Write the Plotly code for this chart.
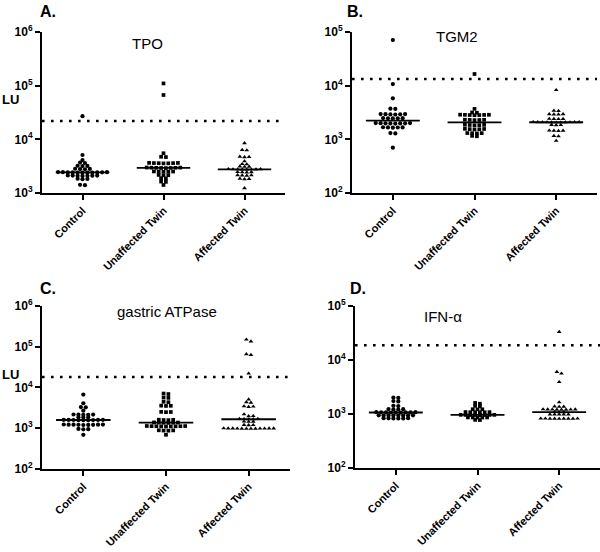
import numpy as np
import plotly.graph_objects as go

categories = ["Control", "Unaffected Twin", "Affected Twin"]

# Panel A: TPO (LU)
tpo_control = [27000, 5100, 4100, 3680, 3620, 3220, 3200, 3180, 2830, 2810, 2790, 2770,
               2450, 2445, 2440, 2430, 2425, 2420, 2415, 2410, 2400, 2395, 2390,
               2120, 2115, 2110, 2100, 2090, 2085, 2080, 1850, 1830, 1810, 1420, 1400]
tpo_unaffected = [110000, 67000, 5500, 4730, 4670, 3640, 3630, 3610, 3600, 3590, 3570, 3560,
                  2980, 2970, 2960, 2950, 2940, 2930, 2920, 2910, 2520, 2510, 2500, 2490, 2480,
                  2170, 2150, 2130, 1890, 1870, 1630, 1610, 1410]
tpo_affected = [8500, 6350, 6250, 4740, 4700, 4660, 3900, 3470, 3430, 3120, 3100, 3080,
                2790, 2780, 2770, 2760, 2750, 2740, 2730, 2720, 2460, 2450, 2430, 2420,
                2150, 2140, 2120, 2110, 1850, 1830, 1810, 1230]
tpo_cutoff = 22000

# Panel B: TGM2
tgm2_control = [71000, 10700, 5800, 3720, 3680, 2960, 2950, 2940, 2920, 2910, 2900,
                2490, 2480, 2470, 2460, 2450, 2010, 2005, 2000, 1990, 1985, 1980, 1975, 1970,
                1680, 1670, 1665, 1660, 1650, 1310, 1290, 700]
tgm2_unaffected = [16500, 3700, 3170, 3130, 2880, 2870, 2860, 2850, 2840, 2830, 2820,
                   2320, 2310, 2300, 2290, 2280, 1870, 1860, 1850, 1840, 1830,
                   1570, 1560, 1550, 1540, 1530, 1310, 1305, 1300, 1290, 1160, 1140]
tgm2_affected = [8300, 3420, 3380, 2950, 2940, 2920, 2910, 2420, 2410, 2400, 2390,
                 2100, 2095, 2090, 2085, 2080, 2080, 2075, 2070, 2065, 2060, 2055,
                 1860, 1850, 1840, 1460, 1455, 1450, 1440, 1160, 1140, 940]
tgm2_cutoff = 13300

# Panel C: gastric ATPase (LU)
atp_control = [6700, 4100, 3300, 3260, 2700, 2170, 2160, 2150, 2140, 2130, 1860, 1850, 1840,
               1610, 1605, 1600, 1595, 1590, 1585, 1580, 1575, 1570,
               1235, 1230, 1225, 1220, 1220, 1215, 1210, 1205, 1200, 960, 950, 940, 690]
atp_unaffected = [7100, 6900, 5650, 5550, 4450, 4350, 3580, 3550, 3520, 2520, 2500, 2480,
                  1620, 1610, 1590, 1580, 1390, 1380, 1375, 1365, 1360, 1350,
                  1135, 1130, 1125, 1120, 1120, 1115, 1110, 1105, 1100, 890, 885, 875, 870, 690]
atp_affected = [150000, 135000, 66000, 63000, 22000, 5100, 4350, 4250, 3450, 3400, 3350,
                2200, 1990, 1970, 1700, 1690, 1680, 1670, 1660, 1460, 1450, 1440, 1210, 1200, 1190,
                995, 993, 990, 988, 986, 985, 984, 982, 980, 978, 976, 974]
atp_cutoff = 18100

# Panel D: IFN-alpha
ifn_control = [2020, 1980, 1730, 1710, 1420, 1400, 1230, 1225, 1215, 1210,
               1080, 1078, 1075, 1072, 1070, 1068, 1065, 1062, 1060,
               945, 943, 941, 940, 939, 937, 935, 933, 835, 833, 830, 828, 826, 824]
ifn_unaffected = [1600, 1550, 1410, 1390, 1225, 1220, 1215, 1085, 1082, 1080, 1078, 1076, 1074,
                  965, 963, 961, 960, 959, 957, 955, 953, 864, 862, 860, 858, 856, 778, 772]
ifn_affected = [33000, 6000, 5600, 3900, 1650, 1380, 1370, 1360, 1220, 1217, 1214, 1211, 1208,
                1205, 1202, 1199, 1085, 1080, 1075, 985, 982, 980, 978, 975,
                825, 824, 823, 822, 820, 819, 818, 817, 816]
ifn_cutoff = 18700

panels = [
    dict(letter="A.", title="TPO", groups=[tpo_control, tpo_unaffected, tpo_affected], cutoff=tpo_cutoff,
         yr=(3, 6), xd=(0.07, 0.475), yd=(0.6504, 0.942), title_xy=(147, 43), letter_xy=(38, 12)),
    dict(letter="B.", title="TGM2", groups=[tgm2_control, tgm2_unaffected, tgm2_affected], cutoff=tgm2_cutoff,
         yr=(2, 5), xd=(0.5867, 0.995), yd=(0.6504, 0.942), title_xy=(457, 37), letter_xy=(345, 12)),
    dict(letter="C.", title="gastric ATPase", groups=[atp_control, atp_unaffected, atp_affected],
         cutoff=atp_cutoff, yr=(2, 6), xd=(0.07, 0.4833), yd=(0.1504, 0.4457), title_xy=(167, 311),
         letter_xy=(38, 288)),
    dict(letter="D.", title="IFN-α", groups=[ifn_control, ifn_unaffected, ifn_affected], cutoff=ifn_cutoff,
         yr=(2, 5), xd=(0.5917, 1.0), yd=(0.1522, 0.4457), title_xy=(443, 316), letter_xy=(348, 288)),
]

symbols = ["circle", "square", "triangle-up"]
msizes = [4.2, 3.7, 4.2]
spacing = [4.9, 4.8, 4.6]
W, H = 600, 552
FONT = "Liberation Sans"


def row_scatter(values, px_per_unit, px_per_decade, dx=5.0, h=2.0, maxw=50.0):
    """GraphPad-like column scatter: group values into rows (pixel tolerance h),
    centre each row, lowest values in the middle. Returns offsets in category units."""
    vals = np.asarray(values, float)
    ypx = np.log10(vals) * px_per_decade
    order = np.argsort(ypx)
    offs = np.zeros(len(vals))
    i = 0
    while i < len(order):
        j = i
        while j + 1 < len(order) and ypx[order[j + 1]] - ypx[order[i]] <= h:
            j += 1
        idx = order[i:j + 1]
        n = len(idx)
        s = min(dx, maxw / max(n - 1, 1)) if n > 1 else dx
        pos = [(k - (n - 1) / 2.0) * s for k in range(n)]
        pos.sort(key=lambda p: (round(abs(p), 6), -p))
        for v_i, p in zip(idx, pos):
            offs[v_i] = p
        i = j + 1
    return offs / px_per_unit


fig = go.Figure()
annotations = []
layout = {}
for k, p in enumerate(panels):
    sfx = "" if k == 0 else str(k + 1)
    xa, ya = "x" + sfx, "y" + sfx
    width_px = (p["xd"][1] - p["xd"][0]) * W
    height_px = (p["yd"][1] - p["yd"][0]) * H
    px_per_unit = width_px / 3.0
    px_per_decade = height_px / (p["yr"][1] - p["yr"][0])
    for g, vals in enumerate(p["groups"]):
        offs = row_scatter(vals, px_per_unit, px_per_decade, dx=spacing[g])
        fig.add_trace(go.Scatter(
            x=g + offs, y=vals, mode="markers", xaxis=xa, yaxis=ya,
            marker=dict(symbol=symbols[g], size=msizes[g], color="black", line=dict(width=0)),
            showlegend=False, hoverinfo="y"))
        med = float(np.median(vals))
        fig.add_trace(go.Scatter(
            x=[g - 0.33, g + 0.33], y=[med, med], mode="lines", xaxis=xa, yaxis=ya,
            line=dict(color="black", width=1.8), showlegend=False, hoverinfo="skip"))
    fig.add_trace(go.Scatter(
        x=[-0.5, 2.5], y=[p["cutoff"], p["cutoff"]], mode="lines", xaxis=xa, yaxis=ya,
        line=dict(color="black", width=2.6, dash="2.6px,6.4px"), showlegend=False, hoverinfo="skip"))

    decades = list(range(p["yr"][0], p["yr"][1] + 1))
    layout["xaxis" + sfx] = dict(
        domain=list(p["xd"]), range=[-0.5, 2.5], anchor=ya, tickmode="array",
        tickvals=[0, 1, 2], ticktext=categories, tickangle=-45,
        ticks="outside", ticklen=5, tickwidth=1.5, tickcolor="black",
        showline=True, linecolor="black", linewidth=2, showgrid=False, zeroline=False,
        tickfont=dict(family=FONT, size=11, color="black", weight="bold"))
    layout["yaxis" + sfx] = dict(
        domain=list(p["yd"]), type="log", range=list(p["yr"]), anchor=xa, tickmode="array",
        tickvals=[10 ** e for e in decades], ticktext=["10<sup>%d</sup>" % e for e in decades],
        ticks="outside", ticklen=5, tickwidth=1.5, tickcolor="black",
        showline=True, linecolor="black", linewidth=2, showgrid=False, zeroline=False,
        tickfont=dict(family=FONT, size=12, color="black", weight="bold"))

    lx, ly = p["letter_xy"]
    annotations.append(dict(text="<b>%s</b>" % p["letter"], xref="paper", yref="paper",
                            x=lx / W, y=1 - ly / H, xanchor="left", yanchor="middle",
                            showarrow=False, font=dict(family=FONT, size=16, color="black")))
    tx, ty = p["title_xy"]
    annotations.append(dict(text=p["title"], xref="paper", yref="paper",
                            x=tx / W, y=1 - ty / H, xanchor="center", yanchor="middle",
                            showarrow=False, font=dict(family=FONT, size=15, color="black")))

for ly in (99, 374):
    annotations.append(dict(text="<b>LU</b>", xref="paper", yref="paper", x=0.0, y=1 - ly / H,
                            xanchor="left", yanchor="middle", showarrow=False,
                            font=dict(family=FONT, size=13, color="black")))

fig.update_layout(width=W, height=H, margin=dict(l=0, r=0, t=0, b=0, autoexpand=False),
                  paper_bgcolor="white", plot_bgcolor="white", showlegend=False,
                  annotations=annotations, **layout)
fig.write_html("out.html", config={"displayModeBar": False},
               post_script="document.body.style.margin='0';document.body.style.overflow='hidden';")
